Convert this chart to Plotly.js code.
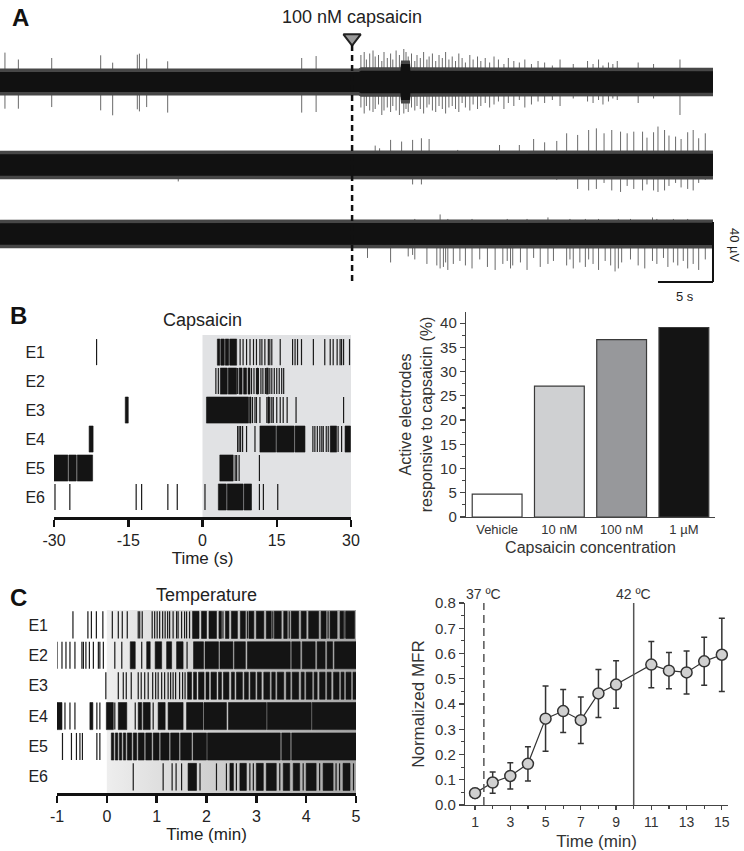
<!DOCTYPE html>
<html>
<head>
<meta charset="utf-8">
<script src="https://cdn.plot.ly/plotly-3.0.1.min.js"></script>
<style>
  html, body { margin: 0; padding: 0; background: #fff; }
  #fig { width: 744px; height: 851px; }
</style>
</head>
<body>
<div id="fig"></div>
<script>
// ---------- Panel A: three extracellular traces (time in s, amplitude in µV) ----------
const trace1Times = [0.45, 1.67, 4.70, 9.15, 10.24, 12.48, 12.67, 13.33, 15.24, 27.42, 28.73,
  32.8, 33.1, 33.3, 33.6, 33.9, 34.1, 34.4, 34.7, 34.9, 35.2,
  35.5, 35.7, 36.0, 36.3, 36.7, 36.9, 37.1, 37.4, 37.7, 37.9,
  38.2, 38.5, 38.8, 39.0, 39.3, 39.6, 39.9, 40.2, 40.5, 40.8,
  41.1, 41.4, 41.7, 42.0, 42.3, 42.7, 43.0, 43.4, 43.7, 44.1,
  44.5, 44.9, 45.3, 45.8, 46.2, 46.7, 47.2, 47.7, 48.3, 48.9,
  49.5, 50.2, 50.9, 52.1, 53.4, 53.9, 54.4, 54.8, 55.3, 55.7,
  56.1, 58.0, 59.4, 61.8];
const trace1Up = [19.6, 15, 16, 17.8, 12.9, 18.2, 18.9, 15.6, 13.8, 16, 17.3,
  18, 20, 15, 19, 21, 17, 18, 14, 20, 16,
  19, 15, 21, 18, 22, 20, 17, 19, 14, 18,
  16, 20, 15, 17, 19, 14, 18, 16, 20, 15,
  17, 14, 19, 16, 13, 18, 15, 17, 14, 16,
  13, 17, 15, 12, 16, 14, 13, 15, 12, 14,
  13, 11, 15, 12, 14, 12, 15, 11, 13, 12,
  14, 13, 12, 15];
const trace1Down = [17.8, 17.8, 16.7, 18.9, 22.2, 18.2, 19.6, 16.7, 20.4, 20.4, 20,
  17, 21, 16, 19, 20, 18, 15, 22, 19, 17,
  20, 16, 19, 22, 21, 18, 20, 17, 19, 16,
  18, 21, 17, 15, 19, 20, 16, 18, 21, 17,
  16, 18, 20, 14, 17, 19, 15, 18, 16, 14,
  17, 15, 13, 18, 14, 16, 12, 17, 15, 13,
  14, 12, 16, 11, 13, 14, 12, 15, 13, 11,
  12, 14, 11, 22];

const trace2Times = [16.2, 34.1, 34.5, 35.5, 36.5, 37.5, 38.3, 39.0, 41.6, 45.4,
  47.2, 48.5, 49.5, 50.6, 51.5, 52.5, 53.5, 54.2, 54.9, 55.6,
  56.4, 57.0, 57.6, 58.4, 58.8, 59.4, 59.8, 60.4, 60.8, 61.4,
  61.9, 62.5, 63.0, 63.5, 64.1];
const trace2Up = [8, 12.9, 11.1, 16.7, 15.6, 16.7, 17.8, 17.3, 10, 13.3,
  13.3, 17.3, 15.1, 16, 21.1, 20, 23.3, 24.4, 21.1, 23.3,
  22.2, 21.1, 22.2, 22.2, 18.2, 21.8, 25.6, 23.3, 19.6, 18.9,
  17.3, 21.8, 23.3, 17.8, 21.1];
const trace2Down = [11, 8, 8, 8, 9, 13, 13, 8, 8, 8,
  8, 8, 9, 10, 9, 16, 17, 16, 12, 17,
  18, 14, 16, 17, 13, 17, 18, 17, 14, 12,
  15, 16, 17, 12, 10];

const trace3Times = [33.4, 35.5, 37.1, 37.5, 37.7, 38.8, 39.7, 40.0, 40.3, 40.5,
  40.7, 41.2, 41.8, 42.3, 42.9, 43.6, 44.3, 45.0, 45.7, 46.1,
  46.4, 46.6, 47.3, 47.9, 48.5, 49.1, 49.8, 50.3, 51.5, 51.8,
  52.1, 52.7, 53.2, 53.5, 53.9, 54.4, 55.0, 55.5, 55.9, 56.2,
  56.5, 57.3, 58.0, 58.6, 59.3, 59.7, 60.3, 60.7, 61.2, 61.6,
  62.1, 62.5, 63.0, 63.5, 64.1];
const trace3Up = [9, 8, 8, 9, 10, 9, 8, 13, 9, 8,
  10, 8, 9, 9, 10, 8, 9, 9, 8, 10,
  9, 8, 9, 10, 8, 9, 11, 8, 9, 10,
  8, 9, 10, 9, 8, 10, 9, 9, 8, 10,
  9, 10, 8, 9, 11, 10, 9, 8, 10, 9,
  8, 10, 9, 8, 9];
const trace3Down = [16, 19, 15, 14, 17, 20, 21, 23, 22, 19,
  24, 20, 18, 21, 23, 17, 22, 24, 20, 18,
  23, 21, 19, 24, 16, 22, 20, 18, 21, 17,
  23, 19, 22, 17, 20, 24, 18, 21, 25, 23,
  19, 17, 21, 23, 18, 20, 16, 22, 19, 21,
  18, 23, 20, 24, 17];

// noise band envelope (half height, µV)
const band1Times = [0, 32.6, 32.8, 36.4, 36.45, 37.25, 37.3, 64.8];
const band1Half = [6.7, 6.7, 7.5, 7.5, 12, 12, 7.5, 7.2];
const band2Times = [0, 64.8];
const band2Half = [7.2, 7.4];
const band3Times = [0, 64.8];
const band3Half = [7.2, 7.4];

const capsaicinTime = 32;

// ---------- Panel B: raster (s) ----------
const electrodes = ['E1', 'E2', 'E3', 'E4', 'E5', 'E6'];
const capSpikes = [
  [-21.4, 7.6, 8.2, 8.9, 9.6, 10.3, 10.9, 11.6, 12.0, 12.6, 13.3, 13.6, 14.0, 15.7, 18.2, 18.7, 19.2, 20.0, 22.4, 24.7, 25.8, 26.4, 27.2, 27.8, 28.1, 28.5, 29.7],
  [2.7, 3.2, 7.1, 9.9, 10.4, 10.9, 11.3, 11.8, 12.2, 12.7, 13.1, 13.6, 14.0, 14.5, 15.0, 15.5, 16.0, 16.4],
  [10.1, 10.6, 10.9, 11.6, 13.0, 13.6, 14.0, 14.3, 15.0, 15.7, 16.3, 17.1, 18.9, 28.5],
  [7.1, 7.4, 7.7, 8.1, 8.9, 10.6, 22.3, 22.7, 23.2, 23.7, 24.1, 24.4, 25.0, 25.4, 27.4, 28.1],
  [6.6, 6.9, 7.4, 11.5],
  [-29.8, -26.8, -13.4, -12.3, -7.0, -5.1, 0.5, 11.5, 12.3, 15.2]
];
const capBursts = [
  [[3.0, 3.5], [3.7, 4.4], [4.6, 5.3], [5.5, 6.9]],
  [[3.6, 5.0], [5.2, 6.9], [7.4, 8.0], [8.3, 8.9], [9.2, 9.6], [11.0, 11.2], [12.9, 13.3]],
  [[-15.6, -15.0], [0.8, 9.3], [9.5, 9.8], [13.2, 13.5]],
  [[-22.9, -22.1], [11.6, 14.8], [15.0, 18.5], [18.7, 20.7], [25.8, 27.1], [28.8, 29.9]],
  [[-30, -27.2], [-27.0, -25.5], [-25.3, -22.2], [3.5, 6.2]],
  [[3.2, 4.8], [5.0, 8.2], [8.4, 9.9]]
];
const capTickVals = [-30, -15, 0, 15, 30];
const capTickText = ['-30', '-15', '0', '15', '30'];

// ---------- Panel B: bar chart ----------
const concentrations = ['Vehicle', '10 nM', '100 nM', '1 µM'];
const responsivePct = [4.7, 27.0, 36.6, 39.1];
const barColors = ['#ffffff', '#cfd0d2', '#97989b', '#141414'];

// ---------- Panel C: raster (min) ----------
const tempSpikes = [
  [-0.68, -0.38, -0.31, -0.21, -0.08, 0.11, 0.23, 0.31, 0.41, 0.63, 0.66, 0.71, 0.91, 0.96, 1.01, 1.06, 1.12, 1.17, 1.22, 1.26, 1.33, 1.40, 1.43, 1.50, 1.56, 1.60, 1.66, 2.33, 2.82, 3.33, 3.66, 4.44, 4.78],
  [-1.0, -0.9, -0.82, -0.74, -0.64, -0.50, -0.47, -0.42, -0.35, -0.27, -0.17, -0.14, -0.07, 0.16, 0.30, 0.70, 1.61],
  [-0.02, 0.23, 0.33, 0.39, 0.49, 0.63, 0.69, 0.76, 0.83, 0.92, 0.98, 1.03, 1.10, 1.16, 1.23, 1.28, 1.33, 1.38, 1.46, 1.52, 1.57],
  [-0.84, -0.74, -0.64, -0.2, -0.14, 0.16, 0.57, 0.93],
  [-0.89, -0.71, -0.61, -0.54, -0.49, -0.2, -0.14],
  [0.53, 1.13, 1.31, 1.39, 1.5, 1.87, 2.2, 2.4, 2.60, 2.87, 2.94, 3.47, 3.94, 4.27, 4.6, 4.67, 4.95]
];
const tempBursts = [
  [[1.72, 1.85], [1.9, 2.0], [2.05, 2.2], [2.25, 2.3], [2.38, 2.45], [2.5, 2.62], [2.68, 2.78], [2.85, 2.95], [3.0, 3.15], [3.2, 3.3], [3.36, 3.5], [3.55, 3.62], [3.7, 3.85], [3.9, 4.0], [4.05, 4.25], [4.3, 4.4], [4.48, 4.62], [4.68, 4.75], [4.8, 4.97]],
  [[0.47, 0.57], [0.80, 0.87], [0.97, 1.10], [1.20, 1.30], [1.40, 1.53], [1.74, 1.94], [1.97, 2.24], [2.27, 2.53], [2.56, 2.78], [2.82, 3.68], [3.71, 3.88], [3.92, 4.18], [4.22, 4.38], [4.42, 4.53], [4.57, 5.0]],
  [[1.62, 1.70], [1.74, 1.80], [1.84, 1.95], [1.99, 2.05], [2.09, 2.2], [2.24, 2.3], [2.34, 2.45], [2.5, 2.56], [2.6, 2.72], [2.76, 2.84], [2.88, 2.98], [3.02, 3.1], [3.15, 3.27], [3.31, 3.38], [3.42, 3.55], [3.6, 3.68], [3.72, 3.85], [3.9, 3.96], [4.0, 4.12], [4.16, 4.22], [4.27, 4.38], [4.42, 4.5], [4.55, 4.66], [4.7, 4.76], [4.8, 4.9], [4.94, 5.0]],
  [[-1.0, -0.9], [-0.34, -0.28], [-0.01, 0.13], [0.23, 0.40], [0.63, 0.70], [0.73, 0.87], [1.03, 1.17], [1.23, 1.53], [1.60, 1.93], [1.95, 2.40], [2.44, 3.2], [3.22, 4.1], [4.12, 5.0]],
  [[0.09, 0.14], [0.17, 0.22], [0.25, 0.3], [0.33, 0.38], [0.41, 0.5], [0.53, 0.6], [0.63, 0.75], [0.78, 0.9], [0.93, 1.05], [1.08, 1.25], [1.28, 1.45], [1.48, 1.7], [1.73, 2.0], [2.02, 3.48], [3.51, 3.68], [3.71, 5.0]],
  [[1.63, 1.8], [2.47, 2.54], [2.67, 2.80], [3.0, 3.14], [3.2, 3.4], [3.54, 3.67], [3.74, 3.87], [4.0, 4.2], [4.34, 4.54], [4.74, 4.88]]
];
const tempTickVals = [-1, 0, 1, 2, 3, 4, 5];

// ---------- Panel C: normalized MFR ----------
const mfrTime = [1, 2, 3, 4, 5, 6, 7, 8, 9, 11, 12, 13, 14, 15];
const mfrMean = [0.047, 0.089, 0.115, 0.163, 0.342, 0.372, 0.336, 0.442, 0.477, 0.556, 0.532, 0.525, 0.569, 0.595];
const mfrErr = [0.018, 0.042, 0.052, 0.068, 0.129, 0.085, 0.092, 0.095, 0.094, 0.092, 0.072, 0.085, 0.095, 0.145];
const temp37Time = 1.5;
const temp42Time = 10;

const FONT = 'Liberation Sans, Arial, Helvetica, sans-serif';

// vertical spike segments for a trace
function spikeLines(times, up, down, offset) {
  const x = [], y = [];
  times.forEach((t, i) => {
    x.push(t, t, null);
    y.push(offset + up[i], offset - down[i], null);
  });
  return { x, y };
}

// closed polygon for noise band
function bandPoly(times, half, offset, extra) {
  const x = times.concat(times.slice().reverse());
  const y = times.map((t, i) => offset + half[i] + extra)
    .concat(times.map((t, i) => offset - half[i] - extra).reverse());
  return { x, y };
}

const traces = [];
const offsets = [0, -55.3, -101.3];
const recs = [
  [trace1Times, trace1Up, trace1Down, band1Times, band1Half],
  [trace2Times, trace2Up, trace2Down, band2Times, band2Half],
  [trace3Times, trace3Up, trace3Down, band3Times, band3Half]
];
recs.forEach((r, k) => {
  const s = spikeLines(r[0], r[1], r[2], offsets[k]);
  traces.push({ x: s.x, y: s.y, xaxis: 'x', yaxis: 'y', mode: 'lines',
    line: { color: '#6a6a6a', width: 1 }, hoverinfo: 'skip', showlegend: false });
  const outer = bandPoly(r[3], r[4], offsets[k], 2.3);
  traces.push({ x: outer.x, y: outer.y, xaxis: 'x', yaxis: 'y', mode: 'lines', fill: 'toself',
    fillcolor: '#474747', line: { width: 0 }, hoverinfo: 'skip', showlegend: false });
  const inner = bandPoly(r[3], r[4], offsets[k], 0);
  traces.push({ x: inner.x, y: inner.y, xaxis: 'x', yaxis: 'y', mode: 'lines', fill: 'toself',
    fillcolor: '#111111', line: { width: 0 }, hoverinfo: 'skip', showlegend: false });
});
// capsaicin arrow
traces.push({ x: [capsaicinTime], y: [29.3], xaxis: 'x', yaxis: 'y', mode: 'markers',
  marker: { symbol: 'triangle-down', size: 15, color: '#9a9a9a', line: { color: '#222', width: 2 } },
  hoverinfo: 'skip', showlegend: false });

// raster: bursts as filled blocks, single spikes as ticks
function rasterTraces(spikes, bursts, xa, ya, h) {
  const sx = [], sy = [];
  spikes.forEach((row, i) => row.forEach(t => { sx.push(t, t, null); sy.push(i - h / 2, i + h / 2, null); }));
  const bx = [], by = [];
  bursts.forEach((row, i) => row.forEach(b => {
    bx.push(b[0], b[1], b[1], b[0], b[0], null);
    by.push(i - h / 2, i - h / 2, i + h / 2, i + h / 2, i - h / 2, null);
  }));
  return [
    { x: bx, y: by, xaxis: xa, yaxis: ya, mode: 'lines', fill: 'toself', fillcolor: '#141414',
      line: { color: '#141414', width: 0.6 }, hoverinfo: 'skip', showlegend: false },
    { x: sx, y: sy, xaxis: xa, yaxis: ya, mode: 'lines', line: { color: '#1a1a1a', width: 1.2 },
      hoverinfo: 'skip', showlegend: false }
  ];
}

// C raster gradient background
traces.push({ x: [0, 5.02, 5.02, 0, 0], y: [-0.49, -0.49, 5.53, 5.53, -0.49], xaxis: 'x4', yaxis: 'y4',
  mode: 'lines', fill: 'toself', line: { width: 0 },
  fillgradient: { type: 'horizontal', colorscale: [[0, '#eeeeee'], [1, '#a6a6a6']], start: 0, stop: 5 },
  hoverinfo: 'skip', showlegend: false });

traces.push(...rasterTraces(capSpikes, capBursts, 'x2', 'y2', 0.9));
traces.push(...rasterTraces(tempSpikes, tempBursts, 'x4', 'y4', 0.89));

// bar chart
traces.push({ type: 'bar', x: concentrations, y: responsivePct, xaxis: 'x3', yaxis: 'y3', width: 0.8,
  marker: { color: barColors, line: { color: '#3a3a3a', width: 1.2 } }, hoverinfo: 'skip', showlegend: false });

// MFR line
traces.push({ x: mfrTime, y: mfrMean, xaxis: 'x5', yaxis: 'y5', mode: 'lines+markers',
  line: { color: '#333', width: 1.2 },
  marker: { size: 11, color: '#d0d0d0', line: { color: '#333', width: 1.5 } },
  error_y: { type: 'data', array: mfrErr, visible: true, color: '#333', thickness: 1.5, width: 3 },
  hoverinfo: 'skip', showlegend: false });

const px = v => v / 744;
const py = v => 1 - v / 851;

const rasterX = {
  showline: true, linecolor: '#111', linewidth: 3, ticks: 'outside', ticklen: 7, tickwidth: 2.5,
  tickcolor: '#111', showgrid: false, zeroline: false,
  tickfont: { family: FONT, size: 16, color: '#222' }
};
const rasterY = {
  showline: false, ticks: '', showgrid: false, zeroline: false, tickvals: [0, 1, 2, 3, 4, 5],
  ticktext: electrodes, tickfont: { family: FONT, size: 16, color: '#222' }, ticklabelstandoff: 8
};
const plainAxis = {
  showline: true, linecolor: '#444', linewidth: 1.2, ticks: 'outside', ticklen: 5, tickwidth: 1.2,
  tickcolor: '#444', showgrid: false, zeroline: false,
  tickfont: { family: FONT, size: 15, color: '#333' }
};

function label(text, x, y, size, extra) {
  return Object.assign({ text: text, x: x, y: y, xref: 'paper', yref: 'paper', showarrow: false,
    xanchor: 'center', yanchor: 'middle', font: { family: FONT, size: size, color: '#222' } }, extra || {});
}

const layout = {
  width: 744, height: 851,
  margin: { l: 0, r: 0, t: 0, b: 0 },
  paper_bgcolor: '#ffffff', plot_bgcolor: 'rgba(0,0,0,0)',
  barmode: 'overlay',
  font: { family: FONT, color: '#222' },
  xaxis: { domain: [0, 0.97], range: [0, 65.59], visible: false, fixedrange: true },
  yaxis: { domain: [py(290), py(30)], range: [-138.67, 34.67], visible: false, fixedrange: true },

  xaxis2: Object.assign({}, rasterX, { domain: [px(54), px(351)], range: [-30, 30], anchor: 'y2',
    tickvals: capTickVals, ticktext: capTickText,
    title: { text: 'Time (s)', font: { family: FONT, size: 17, color: '#222' }, standoff: 0 } }),
  yaxis2: Object.assign({}, rasterY, { domain: [py(517), py(335)], range: [5.69, -0.59], anchor: 'x2' }),

  xaxis3: Object.assign({}, plainAxis, { domain: [px(466), px(715)], range: [-0.5, 3.5], anchor: 'y3', ticks: '',
    tickfont: { family: FONT, size: 13, color: '#333' },
    title: { text: 'Capsaicin concentration', font: { family: FONT, size: 16, color: '#333' }, standoff: 6 } }),
  yaxis3: Object.assign({}, plainAxis, { domain: [py(517), py(312)], range: [0, 42.3], anchor: 'x3', dtick: 5,
    minor: { ticks: 'outside', ticklen: 3, dtick: 2.5, tickcolor: '#444' },
    title: { text: 'Active electrodes<br>responsive to capsaicin (%)', font: { family: FONT, size: 16, color: '#333' }, standoff: 3 } }),

  xaxis4: Object.assign({}, rasterX, { domain: [px(57), px(356)], range: [-1, 5], anchor: 'y4',
    tickvals: tempTickVals, ticktext: tempTickVals.map(String),
    title: { text: 'Time (min)', font: { family: FONT, size: 17, color: '#222' }, standoff: 0 } }),
  yaxis4: Object.assign({}, rasterY, { domain: [py(793), py(610)], range: [5.53, -0.49], anchor: 'x4' }),

  xaxis5: Object.assign({}, plainAxis, { domain: [px(465), px(728)], range: [0.43, 15.35], anchor: 'y5',
    ticklen: 4, tickfont: { family: FONT, size: 14, color: '#333' },
    tick0: 1, dtick: 2, minor: { ticks: 'outside', ticklen: 3, dtick: 1, tickcolor: '#444' },
    title: { text: 'Time (min)', font: { family: FONT, size: 17, color: '#333' }, standoff: 9 } }),
  yaxis5: Object.assign({}, plainAxis, { domain: [py(805), py(603)], range: [0, 0.8], anchor: 'x5',
    dtick: 0.1, tickformat: '.1f', minor: { ticks: 'outside', ticklen: 3, dtick: 0.05, tickcolor: '#444' },
    title: { text: 'Normalized MFR', font: { family: FONT, size: 17, color: '#333' }, standoff: 6 } }),

  shapes: [
    // capsaicin onset line (A)
    { type: 'line', xref: 'x', yref: 'y', x0: capsaicinTime, x1: capsaicinTime, y0: 24.7, y1: -135.3,
      line: { color: '#111', width: 2.5, dash: '6px,4px' } },
    // scale bars (A)
    { type: 'line', xref: 'x', yref: 'y', x0: 64.8, x1: 64.8, y0: -93.3, y1: -133.3, line: { color: '#111', width: 2 } },
    { type: 'line', xref: 'x', yref: 'y', x0: 59.8, x1: 64.8, y0: -133.3, y1: -133.3, line: { color: '#111', width: 2 } },
    // capsaicin shading (B)
    { type: 'rect', xref: 'x2', yref: 'y2', x0: 0, x1: 30, y0: -0.59, y1: 5.69, layer: 'below',
      fillcolor: '#e1e2e4', line: { width: 0 } },
    // temperature markers (C)
    { type: 'line', xref: 'x5', yref: 'y5', x0: temp37Time, x1: temp37Time, y0: 0, y1: 0.8,
      line: { color: '#555', width: 1.5, dash: '8px,5px' } },
    { type: 'line', xref: 'x5', yref: 'y5', x0: temp42Time, x1: temp42Time, y0: 0, y1: 0.8,
      line: { color: '#555', width: 1.5 } }
  ],

  annotations: [
    label('<b>A</b>', px(20), py(17), 24, { font: { family: FONT, size: 24, color: '#111' } }),
    label('100 nM capsaicin', px(352), py(17), 18),
    label('40 µV', px(735), py(245), 13, { textangle: 90 }),
    label('5 s', px(685), py(296), 13),
    label('<b>B</b>', px(18), py(316), 24, { font: { family: FONT, size: 24, color: '#111' } }),
    label('Capsaicin', px(203), py(320), 18),
    label('<b>C</b>', px(18), py(597), 24, { font: { family: FONT, size: 24, color: '#111' } }),
    label('Temperature', px(207), py(595), 18),
    label('37 ºC', temp37Time, py(594), 14, { xref: 'x5', font: { family: FONT, size: 14, color: '#333' } }),
    label('42 ºC', temp42Time, py(594), 14, { xref: 'x5', font: { family: FONT, size: 14, color: '#333' } })
  ]
};

Plotly.newPlot('fig', traces, layout, { staticPlot: true });
</script>
</body>
</html>
